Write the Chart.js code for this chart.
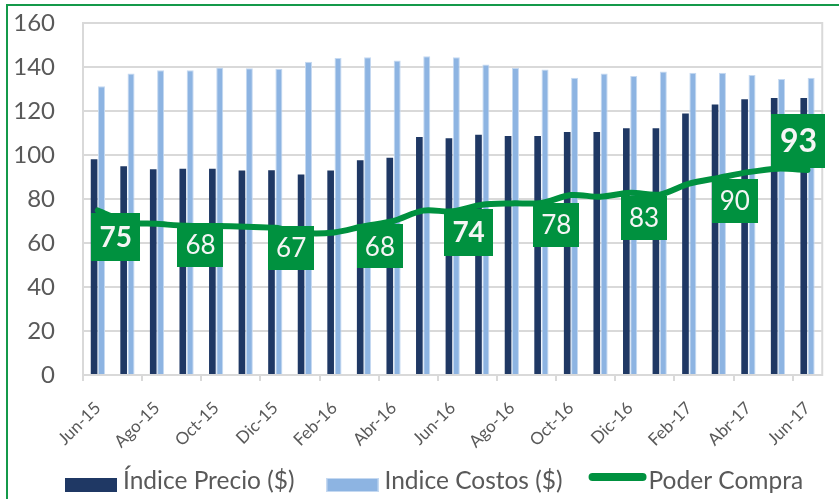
<!DOCTYPE html>
<html><head><meta charset="utf-8">
<script src="https://cdn.jsdelivr.net/npm/chart.js@4.4.1/dist/chart.umd.min.js"></script>
<style>
html,body{margin:0;padding:0;background:#fff;}
#wrap{position:relative;width:839px;height:499px;overflow:hidden;background:#fff;}
#frame{position:absolute;left:6px;top:4px;width:900px;height:600px;border:2px solid #14994A;box-sizing:border-box;}
canvas{position:absolute;left:0;top:0;}
</style></head><body>
<div id="wrap"><div id="frame"></div><canvas id="c" width="839" height="499"></canvas></div>
<script>
const categories = ['Jun-15','Jul-15','Ago-15','Sep-15','Oct-15','Nov-15','Dic-15','Ene-16','Feb-16','Mar-16','Abr-16','May-16','Jun-16','Jul-16','Ago-16','Sep-16','Oct-16','Nov-16','Dic-16','Ene-17','Feb-17','Mar-17','Abr-17','May-17','Jun-17'];
const indicePrecio = [98.1, 94.9, 93.5, 93.8, 93.8, 92.9, 93.1, 91.1, 92.9, 97.6, 98.8, 108.2, 107.6, 109.2, 108.6, 108.6, 110.5, 110.4, 112.2, 112.2, 118.9, 123.0, 125.3, 125.9, 125.9];
const indiceCostos = [131.2, 137.0, 138.5, 138.5, 139.8, 139.4, 139.2, 142.4, 144.1, 144.4, 142.9, 144.9, 144.4, 141.1, 139.6, 138.9, 135.1, 137.1, 135.9, 138.0, 137.4, 137.4, 136.4, 134.5, 135.1];
const poderCompra = [74.8, 69.5, 68.7, 67.8, 67.7, 67.4, 66.9, 64.5, 64.8, 67.6, 70.0, 74.7, 74.4, 77.4, 78.0, 78.2, 81.8, 81.0, 82.8, 82.0, 87.0, 89.6, 92.2, 93.8, 93.2];
const xTickLabels = ['Jun-15','Ago-15','Oct-15','Dic-15','Feb-16','Abr-16','Jun-16','Ago-16','Oct-16','Dic-16','Feb-17','Abr-17','Jun-17'];
const yTickValues = [0, 20, 40, 60, 80, 100, 120, 140, 160];
const labeledMonths = ['Jun-15','Sep-15','Dic-15','Mar-16','Jun-16','Sep-16','Dic-16','Mar-17','Jun-17'];
const seriesNames = ['Índice Precio ($)', 'Indice Costos ($)', 'Poder Compra'];

const GREEN = '#00913F';
const DARK = '#1F3864';
const LIGHT = '#8DB4E2';
const LIGHT_EDGE = '#C5D9F1';
const TXT = '#595959';
const GRID = '#D9D9D9';
const CLEAR = 'rgba(0,0,0,0)';
const FONT = 'Lato, "Open Sans", sans-serif';

// label box styles keyed by month
const labelStyles = {
  'Jun-15': {bold:true, size:28, w:49, h:48, dx:18, dy:27},
  'Sep-15': {size:26, w:46, h:44, dx:14, dy:19},
  'Dic-15': {size:26, w:46, h:44, dx:16, dy:20},
  'Mar-16': {size:26, w:46, h:44, dx:16, dy:20},
  'Jun-16': {bold:true, size:28, w:49, h:47, dx:16, dy:21},
  'Sep-16': {size:26, w:46, h:44, dx:15, dy:22},
  'Dic-16': {size:26, w:46, h:44, dx:14, dy:25},
  'Mar-17': {size:26, w:46, h:44, dx:16, dy:23},
  'Jun-17': {bold:true, size:32, w:54, h:54, dx:-9, dy:-29}
};

const framePlugin = {
  id: 'plotFrame',
  beforeDatasetsDraw(chart) {
    const {ctx, chartArea: a} = chart;
    ctx.save();
    ctx.strokeStyle = GRID; ctx.lineWidth = 2;
    ctx.strokeRect(a.left, a.top, a.right - a.left, a.bottom - a.top);
    ctx.restore();
  }
};

const labelPlugin = {
  id: 'boxLabels',
  afterDatasetsDraw(chart) {
    const ctx = chart.ctx;
    const meta = chart.getDatasetMeta(2);
    ctx.save();
    labeledMonths.forEach(m => {
      const i = categories.indexOf(m);
      const pt = meta.data[i];
      const st = labelStyles[m];
      const cx = pt.x + st.dx, cy = pt.y + st.dy;
      ctx.fillStyle = GREEN;
      ctx.fillRect(Math.round(cx - st.w / 2), Math.round(cy - st.h / 2), st.w, st.h);
      ctx.fillStyle = '#F5F5F5';
      ctx.font = (st.bold ? 'bold ' : '') + st.size + 'px ' + FONT;
      ctx.textAlign = 'center';
      ctx.textBaseline = 'middle';
      ctx.fillText(String(Math.round(poderCompra[i])), cx, cy + 1);
    });
    ctx.restore();
  }
};

// custom legend drawn under the axis
const legendPlugin = {
  id: 'customLegend',
  afterDraw(chart) {
    const ctx = chart.ctx;
    const baseY = 489;
    ctx.save();
    ctx.font = '24.5px ' + FONT;
    ctx.textBaseline = 'alphabetic';
    ctx.textAlign = 'left';
    let x = 65;
    chart.data.datasets.forEach((ds, i) => {
      if (ds.type === 'line') {
        ctx.strokeStyle = ds.borderColor; ctx.lineWidth = 8; ctx.lineCap = 'round';
        ctx.beginPath(); ctx.moveTo(x + 4, baseY - 12); ctx.lineTo(x + 54, baseY - 12); ctx.stroke();
        x += 60;
      } else {
        ctx.fillStyle = ds.backgroundColor;
        ctx.fillRect(x, baseY - 11, 52, 14);
        if (ds.borderWidth) { ctx.strokeStyle = ds.borderColor; ctx.lineWidth = 1; ctx.strokeRect(x + 0.5, baseY - 10.5, 51, 13); }
        x += 58;
      }
      ctx.fillStyle = TXT;
      ctx.fillText(ds.label, x, baseY);
      x += ctx.measureText(ds.label).width + (i === 0 ? 32 : 26);
    });
    ctx.restore();
  }
};

new Chart(document.getElementById('c'), {
  data: {
    labels: categories,
    datasets: [
      {type:'bar', label: seriesNames[0], data: indicePrecio, backgroundColor: DARK, borderWidth:0, order:1,
        categoryPercentage:0.5, barPercentage:0.9},
      {type:'bar', label: seriesNames[1], data: indiceCostos, backgroundColor: LIGHT, borderColor: LIGHT_EDGE, borderWidth:1, order:2,
        categoryPercentage:0.5, barPercentage:0.95},
      {type:'line', label: seriesNames[2], data: poderCompra, borderColor: GREEN, backgroundColor: GREEN, borderWidth:6,
        borderCapStyle:'round', borderJoinStyle:'round', tension:0.3, pointRadius:0, order:0}
    ]
  },
  options: {
    responsive:false, devicePixelRatio:1, animation:false,
    layout: {padding: {top:23, right:6, bottom:42, left:0}},
    plugins: {
      tooltip: {enabled:false},
      legend: {display:false}
    },
    scales: {
      x: {
        offset:true,
        grid: {offset:true, drawOnChartArea:false, tickLength:6, lineWidth:2,
          tickColor: c => (c.index !== undefined && c.index % 2 === 0) ? GRID : CLEAR},
        border: {display:true, color:GRID, width:2},
        ticks: {autoSkip:false, minRotation:45, maxRotation:45, padding:17, color:TXT,
          font:{family:FONT, size:17},
          callback: (v, i) => xTickLabels.includes(categories[i]) ? categories[i] : ''},
        afterFit: s => { s.height = 82; }
      },
      y: {
        min:0, max:160,
        afterBuildTicks: s => { s.ticks = yTickValues.map(v => ({value:v})); },
        grid: {color:GRID, lineWidth:2, drawTicks:true, tickLength:28, tickColor:CLEAR},
        border: {display:true, color:GRID, width:2},
        ticks: {padding:0, color:TXT, font:{family:FONT, size:24}},
        afterFit: s => { s.width = 83; }
      }
    }
  },
  plugins: [framePlugin, labelPlugin, legendPlugin]
});
</script>
</body></html>
